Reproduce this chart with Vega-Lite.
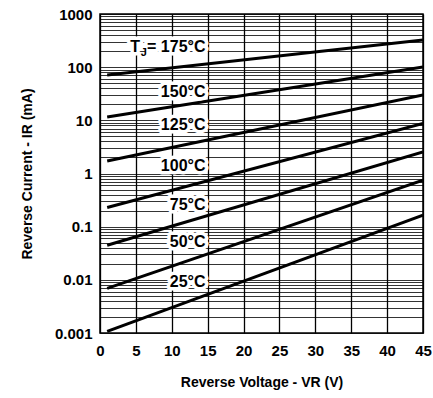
{
  "$schema": "https://vega.github.io/schema/vega-lite/v6.json",
  "width": 323,
  "height": 319,
  "autosize": {"type": "none"},
  "padding": {"left": 100, "top": 14, "right": 10, "bottom": 65},
  "config": {
    "font": "Liberation Sans",
    "view": {"stroke": "black", "strokeWidth": 1.5}
  },
  "datasets": {
    "curves": [
      {"t": "175", "v": 1, "i": 71}, {"t": "175", "v": 45, "i": 325},
      {"t": "150", "v": 1, "i": 11.6}, {"t": "150", "v": 45, "i": 101},
      {"t": "125", "v": 1, "i": 1.72}, {"t": "125", "v": 45, "i": 30},
      {"t": "100", "v": 1, "i": 0.23}, {"t": "100", "v": 45, "i": 8.7},
      {"t": "75", "v": 1, "i": 0.0447}, {"t": "75", "v": 45, "i": 2.55},
      {"t": "50", "v": 1, "i": 0.0069}, {"t": "50", "v": 45, "i": 0.75},
      {"t": "25", "v": 1, "i": 0.00107}, {"t": "25", "v": 45, "i": 0.164}
    ],
    "labels": [
      {"text": "= 175°C", "v": 14.7, "i": 239},
      {"text": "150°C", "v": 14.7, "i": 34},
      {"text": "125°C", "v": 14.7, "i": 8.1},
      {"text": "100°C", "v": 14.7, "i": 1.37},
      {"text": "75°C", "v": 14.7, "i": 0.253},
      {"text": "50°C", "v": 14.7, "i": 0.0508},
      {"text": "25°C", "v": 14.7, "i": 0.00898}
    ],
    "tmain": [{"text": "T", "v": 4.9, "i": 239}],
    "tsub": [{"text": "J", "v": 6.1, "i": 239}]
  },
  "encoding": {
    "x": {
      "field": "v", "type": "quantitative",
      "scale": {"domain": [0, 45], "nice": false, "zero": false},
      "axis": {
        "values": [0, 5, 10, 15, 20, 25, 30, 35, 40, 45],
        "tickCount": 10,
        "grid": true, "gridColor": "black", "gridWidth": 1.3, "gridOpacity": 1,
        "ticks": false, "domain": false, "labelOverlap": false, "labelBound": false, "labelFlush": false,
        "labelFontSize": 15, "labelFontWeight": "bold", "labelColor": "black", "labelPadding": 10,
        "title": "Reverse Voltage - VR  (V)",
        "titleFontSize": 14, "titleFontWeight": "bold", "titleColor": "black", "titlePadding": 17
      }
    },
    "y": {
      "field": "i", "type": "quantitative",
      "scale": {"type": "log", "domain": [0.001, 1000], "nice": false},
      "axis": {
        "values": [0.001, 0.002, 0.003, 0.004, 0.005, 0.006, 0.007, 0.008, 0.009,
                   0.01, 0.02, 0.03, 0.04, 0.05, 0.06, 0.07, 0.08, 0.09,
                   0.1, 0.2, 0.3, 0.4, 0.5, 0.6, 0.7, 0.8, 0.9,
                   1, 2, 3, 4, 5, 6, 7, 8, 9,
                   10, 20, 30, 40, 50, 60, 70, 80, 90,
                   100, 200, 300, 400, 500, 600, 700, 800, 900, 1000],
        "labelExpr": "indexof([0.001, 0.01, 0.1, 1, 10, 100, 1000], datum.value) >= 0 ? format(datum.value, '~g') : ''",
        "grid": true, "gridColor": "black", "gridWidth": 0.8, "gridOpacity": 1,
        "ticks": false, "domain": false,
        "labelFontSize": 15, "labelFontWeight": "bold", "labelColor": "black", "labelPadding": 8,
        "labelOverlap": false, "labelFlush": false,
        "title": "Reverse Current - IR (mA)",
        "titleFontSize": 14, "titleFontWeight": "bold", "titleColor": "black", "titlePadding": 20
      }
    }
  },
  "layer": [
    {
      "data": {"name": "curves"},
      "mark": {"type": "line", "color": "black", "strokeWidth": 3, "clip": true},
      "encoding": {
        "detail": {"field": "t", "type": "nominal"}
      }
    },
    {
      "data": {"name": "labels"},
      "mark": {"type": "text", "align": "right", "baseline": "middle", "fontSize": 16, "fontWeight": "bold", "stroke": "white", "strokeWidth": 7, "strokeJoin": "round", "color": "white"},
      "encoding": {"text": {"field": "text"}}
    },
    {
      "data": {"name": "tmain"},
      "mark": {"type": "text", "align": "center", "baseline": "middle", "fontSize": 16, "fontWeight": "bold", "stroke": "white", "strokeWidth": 7, "strokeJoin": "round", "color": "white"},
      "encoding": {"text": {"field": "text"}}
    },
    {
      "data": {"name": "labels"},
      "mark": {"type": "text", "align": "right", "baseline": "middle", "fontSize": 16, "fontWeight": "bold", "color": "black"},
      "encoding": {"text": {"field": "text"}}
    },
    {
      "data": {"name": "tmain"},
      "mark": {"type": "text", "align": "center", "baseline": "middle", "fontSize": 16, "fontWeight": "bold", "color": "black"},
      "encoding": {"text": {"field": "text"}}
    },
    {
      "data": {"name": "tsub"},
      "mark": {"type": "text", "align": "center", "baseline": "middle", "fontSize": 11, "fontWeight": "bold", "color": "black", "dy": 6},
      "encoding": {"text": {"field": "text"}}
    }
  ]
}
